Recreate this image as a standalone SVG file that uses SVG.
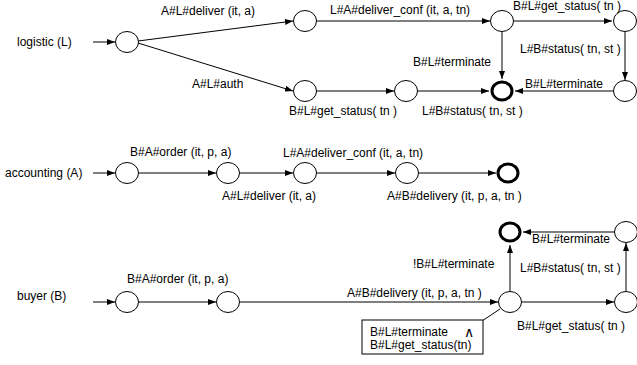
<svg xmlns="http://www.w3.org/2000/svg" width="637" height="365" viewBox="0 0 637 365">
<style>
text{font-family:"Liberation Sans",Arial,sans-serif;font-size:12px;fill:#000}
.s{fill:#fff;stroke:#000;stroke-width:1}
.f{fill:#fff;stroke:#000;stroke-width:3}
.c line,.c path{stroke:#000;stroke-width:1;fill:none}
.a{marker-end:url(#ah)}
</style>
<defs>
<marker id="ah" viewBox="0 0 8 6" refX="8" refY="3" markerWidth="8" markerHeight="6" markerUnits="userSpaceOnUse" orient="auto">
<path d="M0,0L8,3L0,6z" fill="#000"/>
</marker>
</defs>
<rect width="637" height="365" fill="#fff"/>
<g id="labels">
<text x="17" y="46">logistic (L)</text>
<text x="5" y="177">accounting (A)</text>
<text x="17" y="300">buyer  (B)</text>
</g>
<g class="c" id="connectors">
<line class="a" x1="93" y1="42" x2="115" y2="42"/>
<line class="a" x1="138" y1="41" x2="293" y2="21"/>
<line class="a" x1="138" y1="43" x2="293" y2="91"/>
<line class="a" x1="317" y1="21" x2="490" y2="21"/>
<line class="a" x1="514" y1="21" x2="612" y2="21"/>
<line class="a" x1="502" y1="32" x2="502" y2="79"/>
<line class="a" x1="625" y1="32" x2="625" y2="80"/>
<line class="a" x1="613" y1="91" x2="515" y2="91"/>
<line class="a" x1="317" y1="91" x2="394" y2="91"/>
<line class="a" x1="418" y1="91" x2="489" y2="91"/>
<line class="a" x1="93" y1="173" x2="115" y2="173"/>
<line class="a" x1="138" y1="173" x2="216" y2="173"/>
<line class="a" x1="240" y1="173" x2="293" y2="173"/>
<line class="a" x1="317" y1="173" x2="395" y2="173"/>
<line class="a" x1="418" y1="173" x2="496" y2="173"/>
<line class="a" x1="93" y1="302" x2="115" y2="302"/>
<line class="a" x1="138" y1="302" x2="216" y2="302"/>
<line class="a" x1="240" y1="302" x2="498" y2="302"/>
<line class="a" x1="522" y1="302" x2="614" y2="302"/>
<line class="a" x1="626" y1="291" x2="626" y2="243"/>
<line class="a" x1="614" y1="232" x2="523" y2="232"/>
<line class="a" x1="510" y1="291" x2="510" y2="245"/>
<line x1="482" y1="321" x2="500" y2="309"/>
</g>
<g id="L0"><ellipse class="s" cx="127" cy="42" rx="11.5" ry="10.5"/></g>
<g id="L1"><ellipse class="s" cx="305" cy="21" rx="11.5" ry="10.5"/></g>
<g id="L2"><ellipse class="s" cx="305" cy="91" rx="11.5" ry="10.5"/></g>
<g id="L3"><ellipse class="s" cx="502" cy="21" rx="11.5" ry="10.5"/></g>
<g id="L4"><ellipse class="s" cx="625" cy="21" rx="11.5" ry="10.5"/></g>
<g id="L5"><ellipse class="s" cx="625" cy="91" rx="11.5" ry="10.5"/></g>
<g id="L6"><ellipse class="s" cx="406" cy="91" rx="11.5" ry="10.5"/></g>
<g id="LF"><ellipse class="f" cx="502" cy="91" rx="10" ry="9"/></g>
<g id="A0"><ellipse class="s" cx="127" cy="173" rx="11.5" ry="10.5"/></g>
<g id="A1"><ellipse class="s" cx="228" cy="173" rx="11.5" ry="10.5"/></g>
<g id="A2"><ellipse class="s" cx="305" cy="173" rx="11.5" ry="10.5"/></g>
<g id="A3"><ellipse class="s" cx="407" cy="173" rx="11.5" ry="10.5"/></g>
<g id="AF"><ellipse class="f" cx="508" cy="173" rx="10" ry="9"/></g>
<g id="B0"><ellipse class="s" cx="127" cy="302" rx="11.5" ry="10.5"/></g>
<g id="B1"><ellipse class="s" cx="228" cy="302" rx="11.5" ry="10.5"/></g>
<g id="B2"><ellipse class="s" cx="510" cy="302" rx="11.5" ry="10.5"/></g>
<g id="B3"><ellipse class="s" cx="626" cy="302" rx="11.5" ry="10.5"/></g>
<g id="B4"><ellipse class="s" cx="626" cy="232" rx="11.5" ry="10.5"/></g>
<g id="BF"><ellipse class="f" cx="510" cy="232" rx="10" ry="9"/></g>
<g id="edge-labels">
<text x="161" y="15">A#L#deliver (it, a)</text>
<text x="192" y="88">A#L#auth</text>
<text x="330" y="14">L#A#deliver_conf (it, a, tn)</text>
<text x="513" y="10">B#L#get_status( tn )</text>
<text x="520" y="53">L#B#status( tn, st )</text>
<text x="413" y="66">B#L#terminate</text>
<text x="525" y="88">B#L#terminate</text>
<text x="289" y="115">B#L#get_status( tn )</text>
<text x="422" y="115">L#B#status( tn, st )</text>
<text x="130" y="156">B#A#order (it, p, a)</text>
<text x="222" y="200">A#L#deliver (it, a)</text>
<text x="283" y="157">L#A#deliver_conf (it, a, tn)</text>
<text x="387" y="200">A#B#delivery (it, p, a, tn )</text>
<text x="127" y="283">B#A#order (it, p, a)</text>
<text x="347" y="297">A#B#delivery (it, p, a, tn )</text>
<text x="413" y="268">!B#L#terminate</text>
<text x="532" y="243">B#L#terminate</text>
<text x="520" y="272">L#B#status( tn, st )</text>
<text x="517" y="330">B#L#get_status( tn )</text>
</g>
<g id="note">
<rect x="362" y="320" width="121" height="34" fill="#fff" stroke="#000"/>
<text x="370" y="336">B#L#terminate</text>
<text x="464" y="337" style="font-size:14px">∧</text>
<text x="370" y="349">B#L#get_status(tn)</text>
</g>
</svg>
